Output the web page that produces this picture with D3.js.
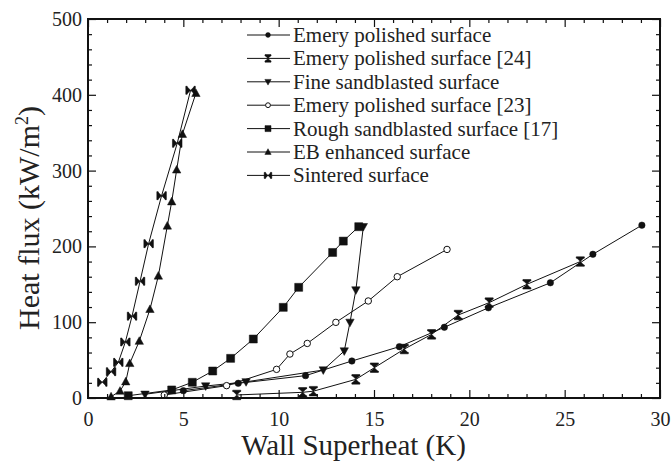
<!DOCTYPE html>
<html><head><meta charset="utf-8">
<script src="https://cdn.jsdelivr.net/npm/d3@7"></script>
<style>body{margin:0;background:#fff}svg{display:block}</style>
</head><body>
<svg id="c" width="672" height="467"></svg>
<script>
const xTicks = [0, 5, 10, 15, 20, 25, 30];
const yTicks = [0, 100, 200, 300, 400, 500];
const seriesNames = ["Emery polished surface", "Emery polished surface [24]", "Fine sandblasted surface",
  "Emery polished surface [23]", "Rough sandblasted surface [17]", "EB enhanced surface", "Sintered surface"];
const markerKinds = ["circle", "hourglass", "triDown", "openCircle", "square", "triUp", "bowtie"];

const emeryX = [5.0, 7.88, 11.41, 13.84, 16.33, 18.69, 21.0, 24.25, 26.48, 29.05];
const emeryY = [9.7, 19.4, 29.5, 48.8, 67.7, 93.3, 119, 152, 189.6, 228];
const emery24X = [7.8, 11.26, 11.82, 14.05, 15.02, 16.59, 18.02, 19.42, 21.04, 23.02, 25.82];
const emery24Y = [4, 7.5, 9, 24.6, 40, 64.6, 84, 109.5, 125.8, 150, 180];
const fineX = [2.99, 6.17, 8.29, 12.34, 13.44, 13.74, 14.05, 14.44];
const fineY = [4.9, 15.8, 21.3, 36.9, 62, 99.8, 142.5, 226];
const emery23X = [4.0, 7.27, 9.89, 10.59, 11.5, 13.0, 14.7, 16.22, 18.83];
const emery23Y = [4, 16.3, 37.8, 58, 72, 99.8, 128, 160, 196];
const roughX = [2.11, 4.39, 5.47, 6.54, 7.48, 8.67, 10.24, 11.05, 12.83, 13.39, 14.2];
const roughY = [3, 10.6, 20.7, 35.6, 52.3, 77.8, 119.6, 146, 192, 207, 226];
const ebX = [1.21, 1.68, 1.98, 2.19, 2.69, 3.25, 3.69, 4.16, 4.39, 4.65, 4.95, 5.66];
const ebY = [1.7, 9.2, 21.5, 45.7, 75, 117, 161, 227, 259, 301, 348, 402];
const sinterX = [0.75, 1.21, 1.59, 1.96, 2.31, 2.73, 3.18, 3.86, 4.68, 5.38];
const sinterY = [20.7, 34.7, 47, 73.9, 108, 154, 203.6, 266.9, 336, 406];

const seriesX = [emeryX, emery24X, fineX, emery23X, roughX, ebX, sinterX];
const seriesY = [emeryY, emery24Y, fineY, emery23Y, roughY, ebY, sinterY];

const FONT = '"Liberation Serif", "Times New Roman", Times, "DejaVu Serif", serif';
const svg = d3.select("#c").attr("font-family", FONT);
const PL = 88, PR = 660, PT = 19, PB = 398;
const x = d3.scaleLinear().domain([0, 30]).range([PL, PR]);
const y = d3.scaleLinear().domain([0, 500]).range([PB, PT]);

function markerPath(kind, s) {
  const h = s / 2;
  switch (kind) {
    case "circle": case "openCircle":
      return d3.symbol().type(d3.symbolCircle).size(Math.PI * h * h * 0.65)();
    case "square":
      return `M${-h},${-h}H${h}V${h}H${-h}Z`;
    case "triUp":
      return `M0,${-h * 1.1}L${h * 1.05},${h * 0.8}L${-h * 1.05},${h * 0.8}Z`;
    case "triDown":
      return `M0,${h * 1.1}L${h * 1.05},${-h * 0.8}L${-h * 1.05},${-h * 0.8}Z`;
    case "hourglass":
      return `M${-h},${-h}H${h}L0,0Z M${-h},${h}H${h}L0,0Z M${-h},${-h - 0.8}H${h}V${-h + 0.6}H${-h}Z M${-h},${h + 0.8}H${h}V${h - 0.6}H${-h}Z`;
    case "bowtie":
      return `M${-h},${-h}V${h}L0,0Z M${h},${-h}V${h}L0,0Z M${-h - 0.8},${-h}V${h}H${-h + 0.6}V${-h}Z M${h + 0.8},${-h}V${h}H${h - 0.6}V${-h}Z`;
  }
}
function drawMarker(g, kind, cx, cy, s) {
  const open = kind === "openCircle";
  g.append("path").attr("d", markerPath(kind, s))
    .attr("transform", `translate(${cx},${cy})`)
    .attr("fill", open ? "#fff" : "#111")
    .attr("stroke", "#111").attr("stroke-width", open ? 1 : 0.5);
}

// series
const plot = svg.append("g");
const line = d3.line().x(d => x(d[0])).y(d => y(d[1]));
seriesX.forEach((xs, i) => {
  const pts = xs.map((v, j) => [v, seriesY[i][j]]);
  plot.append("path").attr("d", line(pts)).attr("fill", "none").attr("stroke", "#111").attr("stroke-width", 1);
});
seriesX.forEach((xs, i) => {
  xs.forEach((v, j) => drawMarker(plot, markerKinds[i], x(v), y(seriesY[i][j]), 8));
});

// axes (ticks inward)
const axG = svg.append("g");
axG.append("g").attr("transform", `translate(0,${PB})`)
  .call(d3.axisBottom(x).tickValues(xTicks).tickSize(-8).tickPadding(14).tickFormat(d3.format("d")));
axG.append("g").attr("transform", `translate(${PL},0)`)
  .call(d3.axisLeft(y).tickValues(yTicks).tickSize(-8).tickPadding(6).tickFormat(d3.format("d")));
axG.append("g").attr("transform", `translate(0,${PT})`)
  .call(d3.axisTop(x).tickValues(xTicks).tickSize(-8).tickFormat(""));
axG.append("g").attr("transform", `translate(${PR},0)`)
  .call(d3.axisRight(y).tickValues(yTicks).tickSize(-8).tickFormat(""));
const xMinor = d3.range(0, 31, 1).filter(v => v % 5 !== 0);
const yMinor = d3.range(0, 501, 20).filter(v => v % 100 !== 0);
axG.append("g").attr("transform", `translate(0,${PB})`).call(d3.axisBottom(x).tickValues(xMinor).tickSize(-4).tickFormat(""));
axG.append("g").attr("transform", `translate(0,${PT})`).call(d3.axisTop(x).tickValues(xMinor).tickSize(-4).tickFormat(""));
axG.append("g").attr("transform", `translate(${PL},0)`).call(d3.axisLeft(y).tickValues(yMinor).tickSize(-4).tickFormat(""));
axG.append("g").attr("transform", `translate(${PR},0)`).call(d3.axisRight(y).tickValues(yMinor).tickSize(-4).tickFormat(""));
axG.selectAll(".domain").remove();
axG.selectAll("g").attr("font-family", FONT);
axG.selectAll(".tick line").attr("stroke", "#111").attr("stroke-width", 1.2);
axG.selectAll(".tick text").attr("font-size", 20).attr("fill", "#222").attr("font-family", FONT);
svg.append("rect").attr("x", PL).attr("y", PT).attr("width", PR - PL).attr("height", PB - PT)
  .attr("fill", "none").attr("stroke", "#111").attr("stroke-width", 2);

// axis titles
svg.append("text").attr("x", (233 + 474) / 2).attr("y", 455).attr("text-anchor", "middle")
  .attr("font-family", FONT).attr("fill", "#222").attr("font-size", 29).text("Wall Superheat (K)");
const yt = svg.append("text").attr("transform", "translate(39,218) rotate(-90)").attr("text-anchor", "middle")
  .attr("font-family", FONT).attr("fill", "#222").attr("font-size", 30);
yt.append("tspan").text("Heat flux (kW/m");
yt.append("tspan").attr("font-size", 18).attr("dy", -11).text("2");
yt.append("tspan").attr("dy", 11).text(")");

// legend
const lg = svg.append("g");
seriesNames.forEach((name, i) => {
  const cy = 35 + i * 23.4;
  lg.append("line").attr("x1", 247).attr("x2", 290).attr("y1", cy).attr("y2", cy).attr("stroke", "#111").attr("stroke-width", 1);
  drawMarker(lg, markerKinds[i], 268, cy, 6);
  lg.append("text").attr("x", 293).attr("y", cy + 7).attr("font-family", FONT).attr("fill", "#222")
    .attr("font-size", 21).text(name);
});
</script>
</body></html>
